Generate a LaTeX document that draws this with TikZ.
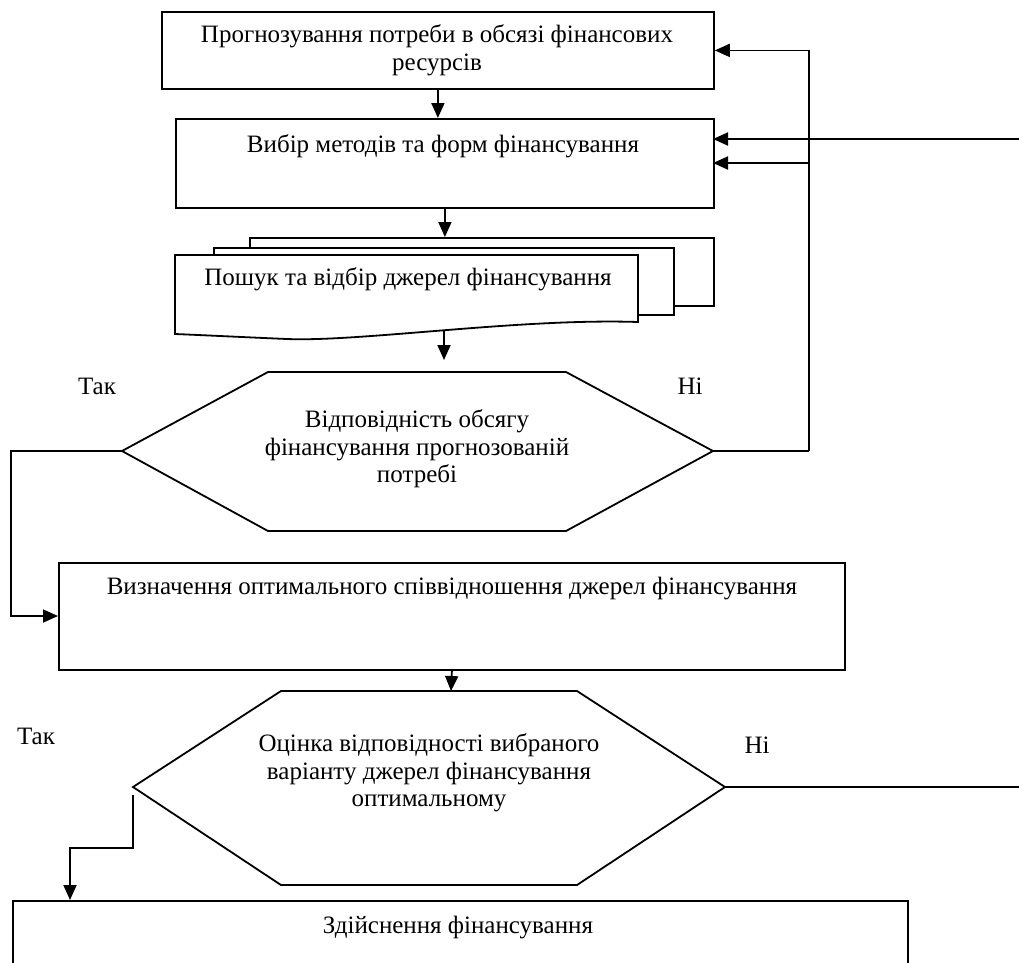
\documentclass[tikz,border=0pt]{standalone}
\usepackage{fontspec}
\setmainfont{Liberation Serif}
\usetikzlibrary{arrows.meta,calc}
\tikzset{
  box/.style={draw, line width=1.8pt, inner sep=0pt, anchor=north west},
  txt/.style={align=center, inner sep=0pt, font=\fontsize{25}{27.5}\selectfont},
  lbl/.style={inner sep=0pt, font=\fontsize{25}{27.5}\selectfont},
  conn/.style={line width=1.8pt},
  arr/.style={line width=1.8pt, -{Triangle[length=15pt,width=13pt]}},
  shape line/.style={line width=1.8pt, line join=miter}
}
\begin{document}
\begin{tikzpicture}[x=1pt,y=-1pt]
\useasboundingbox (0,0) rectangle (1019,962);
\clip (0,0) rectangle (1019,962);
% boxes
\node[box, minimum width=552pt, minimum height=77pt] (b1) at (161,11) {};
\node[txt] (t1) at (437,50) {Прогнозування потреби в обсязі фінансових\\ресурсів};
\node[box, minimum width=538pt, minimum height=89pt] (b2) at (175,118) {};
\node[txt] (t2) at (443,146) {Вибір методів та форм фінансування};
% multi-document
\node[box, fill=white, minimum width=464pt, minimum height=68pt] (back) at (249,237) {};
\node[box, fill=white, minimum width=460pt, minimum height=67pt] (mid) at (213,247) {};
\draw[shape line, fill=white] (175,255) -- (638,255) -- (638,322)
  .. controls (520,318) and (360,342) .. (287,339)
  .. controls (240,337) and (200,335) .. (175,334) -- cycle;
\coordinate (fronttop) at (444,255);
\coordinate (frontbot) at (444,331);
\node[txt] (t3) at (408,279) {Пошук та відбір джерел фінансування};
% hexagon 1
\draw[shape line] (268,372) -- (566,372) -- (713,451) -- (566,531) -- (268,531) -- (122,451) -- cycle;
\coordinate (h1top) at (444,372);
\coordinate (h1left) at (122,451);
\coordinate (h1right) at (713,451);
\node[txt] (t4) at (417,449) {Відповідність обсягу\\фінансування прогнозованій\\потребі};
\node[lbl] (tak1) at (97,386) {Так};
\node[lbl] (ni1) at (690,386) {Ні};
% box 3
\node[box, minimum width=786pt, minimum height=107pt] (b3) at (58,562) {};
\node[txt] (t5) at (452,589) {Визначення оптимального співвідношення джерел фінансування};
% hexagon 2
\draw[shape line] (281,691) -- (577,691) -- (725,787) -- (577,885) -- (281,885) -- (133,787) -- cycle;
\coordinate (h2top) at (451,691);
\coordinate (h2left) at (133,795);
\coordinate (h2right) at (725,787);
\node[txt] (t6) at (429,773) {Оцінка відповідності вибраного\\варіанту джерел фінансування\\оптимальному};
\node[lbl] (tak2) at (36,736) {Так};
\node[lbl] (ni2) at (757,745) {Ні};
% box 4 (runs off the page)
\node[box, minimum width=895pt, minimum height=90pt] (b4) at (12,900) {};
\node[txt] (t7) at (458,928) {Здійснення фінансування};
% connectors
\draw[arr] (b1.south) -- (b1.south |- b2.north);
\draw[arr] (b2.south) -- (b2.south |- back.north);
\draw[arr, shorten >=12pt] (frontbot) -- (h1top);
\coordinate (loopx) at (809,451);
\draw[conn] (h1right) -- (loopx);
\draw[arr] (loopx) -- (loopx |- b1.east) -- (b1.east);
\draw[arr] (809,163) -- (713,163);
\coordinate (rin) at (1019,139);
\draw[arr] (rin) -- (713,139);
\draw[arr] (h1left) -- (11,451) -- (11,616) -- (b3.west |- 0,616);
\draw[arr] (b3.south) -- (h2top);
\draw[arr] (h2left) -- (133,848) -- (70,848) -- (70,900);
\coordinate (rout) at (1019,787);
\draw[conn] (h2right) -- (rout);
\end{tikzpicture}
\end{document}
